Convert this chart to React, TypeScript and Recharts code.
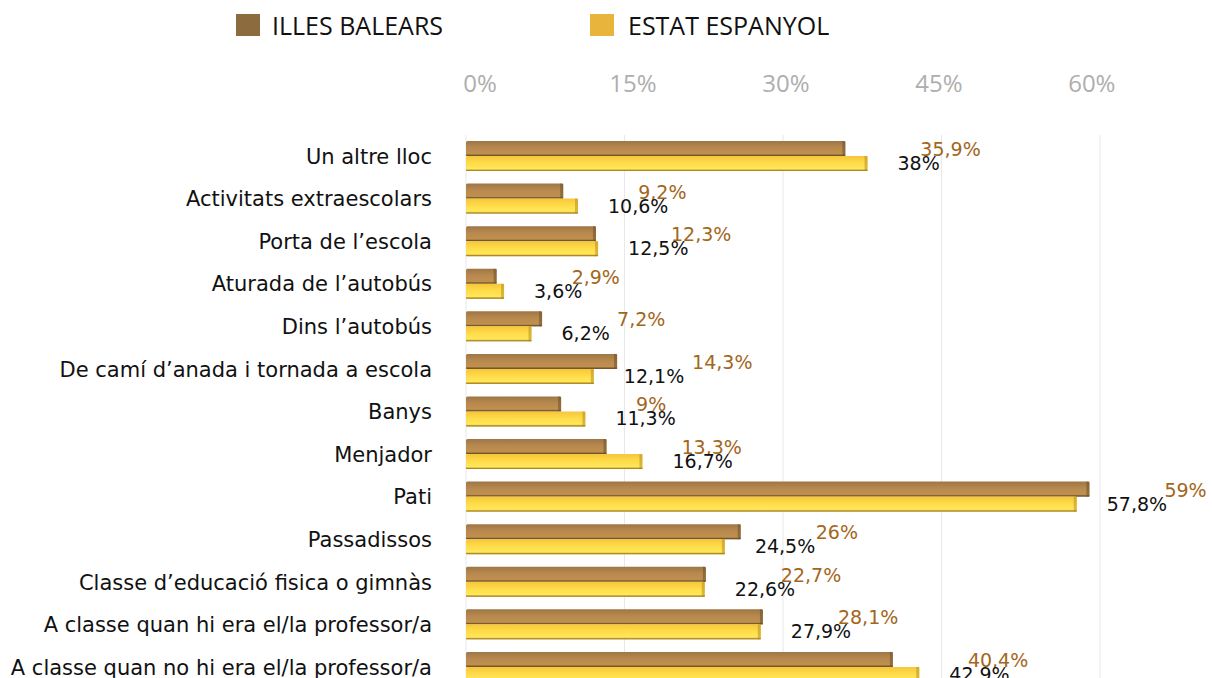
import React from 'react';
import { BarChart, Bar, XAxis, YAxis, CartesianGrid, Legend, LabelList } from 'recharts';

const categories = [
  'Un altre lloc',
  'Activitats extraescolars',
  'Porta de l’escola',
  'Aturada de l’autobús',
  'Dins l’autobús',
  'De camí d’anada i tornada a escola',
  'Banys',
  'Menjador',
  'Pati',
  'Passadissos',
  'Classe d’educació fisica o gimnàs',
  'A classe quan hi era el/la professor/a',
  'A classe quan no hi era el/la professor/a',
];
const illesBalears = [35.9, 9.2, 12.3, 2.9, 7.2, 14.3, 9, 13.3, 59, 26, 22.7, 28.1, 40.4];
const estatEspanyol = [38, 10.6, 12.5, 3.6, 6.2, 12.1, 11.3, 16.7, 57.8, 24.5, 22.6, 27.9, 42.9];
const xTicks = [0, 15, 30, 45, 60];
const seriesNames = ['ILLES BALEARS', 'ESTAT ESPANYOL'];

const data = categories.map((c, i) => ({ name: c, ib: illesBalears[i], ee: estatEspanyol[i] }));

const fmt = (v: number) => String(v).replace('.', ',') + '%';

const makeShape = (grad: string, cap: string, edge: string) => (props: any) => {
  const { x, y, width, height } = props;
  if (width <= 0) return null;
  return (
    <g>
      <rect x={x} y={y} width={width} height={height} fill={`url(#${grad})`} rx={1.5} />
      <rect x={x + width - 3} y={y} width={3} height={height} fill={cap} opacity={0.55} />
      <rect x={x} y={y + height - 1.2} width={width} height={1.2} fill={edge} opacity={0.8} />
    </g>
  );
};

const ibLabel = (props: any) => {
  const { x, y, width, height, value } = props;
  return (
    <text x={x + width + 75} y={y + height / 2 + 2} fill="#A3661A" fontSize={19}
      fontFamily="DejaVu Sans, Verdana, sans-serif" dominantBaseline="middle">{fmt(value)}</text>
  );
};
const eeLabel = (props: any) => {
  const { x, y, width, height, value } = props;
  return (
    <text x={x + width + 30} y={y + height / 2 + 1} fill="#111" fontSize={19}
      fontFamily="DejaVu Sans, Verdana, sans-serif" dominantBaseline="middle">{fmt(value)}</text>
  );
};

// the reference's top tick labels sit on a slightly compressed (perspective) row
const PLOT_LEFT = 466;
const XTick = (props: any) => {
  const { x, y, payload } = props;
  const px = PLOT_LEFT + 14 + (x - PLOT_LEFT) * 0.965;
  return (
    <text x={px} y={y} textAnchor="middle" fill="#AEAEAE" fontSize={24}
      fontFamily='"Liberation Sans Narrow", "Open Sans", sans-serif'>{payload.value + '%'}</text>
  );
};

const legendColors = ['#8C6B3E', '#E8B43C'];
const renderLegend = () => (
  <div style={{ position: 'relative', width: 1212, height: 50 }}>
    {seriesNames.map((n, i) => (
      <div key={n} style={{ position: 'absolute', left: i === 0 ? 236 : 590, top: 14, display: 'flex', alignItems: 'center' }}>
        <div style={{ width: 24, height: 22, background: legendColors[i] }} />
        <span style={{ marginLeft: i === 0 ? 12 : 14, fontFamily: '"Liberation Sans Narrow", "Open Sans", sans-serif', fontSize: 25, color: '#111', lineHeight: '22px' }}>{n}</span>
      </div>
    ))}
  </div>
);

export default function App() {
  return (
    <div style={{ position: 'fixed', left: 0, top: 0, width: 1212, height: 678, overflow: 'hidden', background: '#fff' }}>
      <BarChart width={1212} height={700} data={data} layout="vertical"
        margin={{ top: 0, right: 112, left: 0, bottom: 11.5 }} barSize={15} barGap={0}>
        <defs>
          <linearGradient id="gIB" x1="0" y1="0" x2="0" y2="1">
            <stop offset="0%" stopColor="#9E7645" />
            <stop offset="45%" stopColor="#B8894F" />
            <stop offset="85%" stopColor="#C0904F" />
            <stop offset="100%" stopColor="#7E5C33" />
          </linearGradient>
          <linearGradient id="gEE" x1="0" y1="0" x2="0" y2="1">
            <stop offset="0%" stopColor="#F5C63A" />
            <stop offset="45%" stopColor="#FFDB48" />
            <stop offset="85%" stopColor="#FFE85A" />
            <stop offset="100%" stopColor="#C49A2E" />
          </linearGradient>
        </defs>
        <Legend verticalAlign="top" align="left" content={renderLegend} wrapperStyle={{ left: 0, top: 0, width: 1212, height: 50 }} />
        <CartesianGrid horizontal={false} vertical stroke="#E8E8E8" />
        <XAxis type="number" orientation="top" domain={[0, 60]} ticks={xTicks} height={85}
          axisLine={false} tickLine={false} tickSize={0} tickMargin={43}
          tick={<XTick />} />
        <YAxis type="category" dataKey="name" width={466} axisLine={false} tickLine={false} tickSize={0} tickMargin={34}
          interval={0}
          tick={{ fill: '#111', fontSize: 21, fontFamily: 'DejaVu Sans, Verdana, sans-serif' }} />
        <Bar dataKey="ib" name={seriesNames[0]} shape={makeShape('gIB', '#6E5028', '#6E5028')} isAnimationActive={false}>
          <LabelList dataKey="ib" content={ibLabel} />
        </Bar>
        <Bar dataKey="ee" name={seriesNames[1]} shape={makeShape('gEE', '#B88F20', '#A8801E')} isAnimationActive={false}>
          <LabelList dataKey="ee" content={eeLabel} />
        </Bar>
      </BarChart>
    </div>
  );
}
